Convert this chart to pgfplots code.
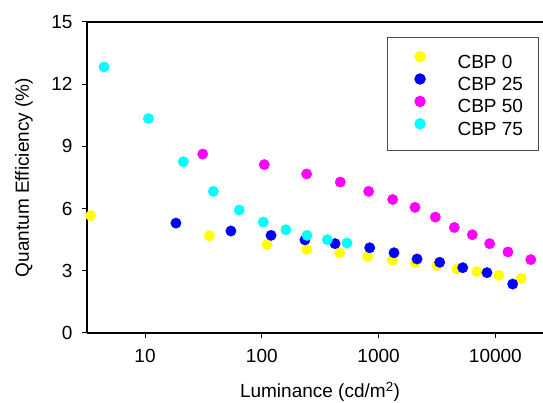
\documentclass[border=0pt]{standalone}
\usepackage{pgfplots}
\pgfplotsset{compat=1.18}
\usepackage{fontspec}
\setmainfont{Liberation Sans}
\definecolor{cbpzero}{RGB}{255,255,0}
\definecolor{cbptwentyfive}{RGB}{0,0,255}
\definecolor{cbpfifty}{RGB}{255,0,255}
\definecolor{cbpseventyfive}{RGB}{0,255,255}
\newcommand{\chartfont}{\fontsize{19}{22}\selectfont}
\begin{document}
\begin{tikzpicture}
\useasboundingbox (-87pt,-70pt) rectangle (456pt,333pt);
\begin{axis}[
    at={(0pt,0pt)}, anchor=south west,
    scale only axis, width=456pt, height=311pt,
    xmode=log, xmin=3.187, xmax=25560,
    ymin=0, ymax=15,
    xtick={10,100,1000,10000}, xticklabels={10,100,1000,10000},
    ytick={0,3,6,9,12,15},
    xminorticks=false,
    axis x line=box, axis y line=left,
    x axis line style={-}, y axis line style={-},
    xtick pos=bottom,
    axis line style={line width=1.4pt},
    tick align=outside, major tick length=5pt,
    tick style={black, line width=1pt},
    /pgf/number format/assume math mode=true,
    tick label style={font=\chartfont},
    xticklabel style={yshift=-8pt},
    yticklabel style={xshift=-6pt},
    label style={font=\chartfont},
    xlabel={Luminance (cd/m\textsuperscript{2})},
    ylabel={Quantum Efficiency (\%)},
    xlabel style={at={(axis description cs:0.5,0)}, anchor=center, yshift=-59pt, xshift=5pt},
    ylabel style={at={(axis description cs:0,0.5)}, anchor=center, yshift=63pt},
    legend style={at={(rel axis cs:0.658,0.952)}, anchor=north west,
        draw=black!70, line width=1pt, inner xsep=0pt, inner ysep=14pt,
        font=\chartfont, row sep=4.3pt, nodes={inner sep=0pt}},
    legend image code/.code={\path (-32pt,0pt) (37pt,0pt); \draw[#1] plot coordinates {(0pt,5.5pt)};},
]
\addplot[only marks, mark=*, mark size=5.2pt, color=cbpzero, mark options={draw=none}] coordinates {
    (3.43,5.66) (35.5,4.69) (111,4.26) (242,4.03) (464,3.86) (807,3.69)
    (1310,3.52) (2060,3.39) (3160,3.25) (4690,3.09) (6950,2.96) (10700,2.78) (16600,2.63)
};
\addlegendentry{\makebox[81pt][l]{CBP 0}}
\addplot[only marks, mark=*, mark size=5.2pt, color=cbptwentyfive, mark options={draw=none}] coordinates {
    (18.4,5.30) (54.4,4.92) (120,4.71) (234,4.49) (424,4.31) (839,4.11)
    (1355,3.87) (2135,3.57) (3335,3.41) (5250,3.15) (8470,2.91) (14060,2.36)
};
\addlegendentry{\makebox[81pt][l]{CBP 25}}
\addplot[only marks, mark=*, mark size=5.2pt, color=cbpfifty, mark options={draw=none}] coordinates {
    (31.2,8.63) (105,8.12) (242,7.67) (470,7.28) (822,6.83) (1320,6.44)
    (2050,6.06) (3060,5.59) (4450,5.09) (6340,4.74) (8930,4.31) (12800,3.91) (20100,3.54)
};
\addlegendentry{\makebox[81pt][l]{CBP 50}}
\addplot[only marks, mark=*, mark size=5.2pt, color=cbpseventyfive, mark options={draw=none}] coordinates {
    (4.46,12.83) (10.7,10.34) (21.3,8.26) (38.5,6.83) (64.1,5.93)
    (103,5.35) (161,4.98) (244,4.71) (364,4.50) (536,4.34)
};
\addlegendentry{\makebox[81pt][l]{CBP 75}}
\end{axis}
\end{tikzpicture}
\end{document}
